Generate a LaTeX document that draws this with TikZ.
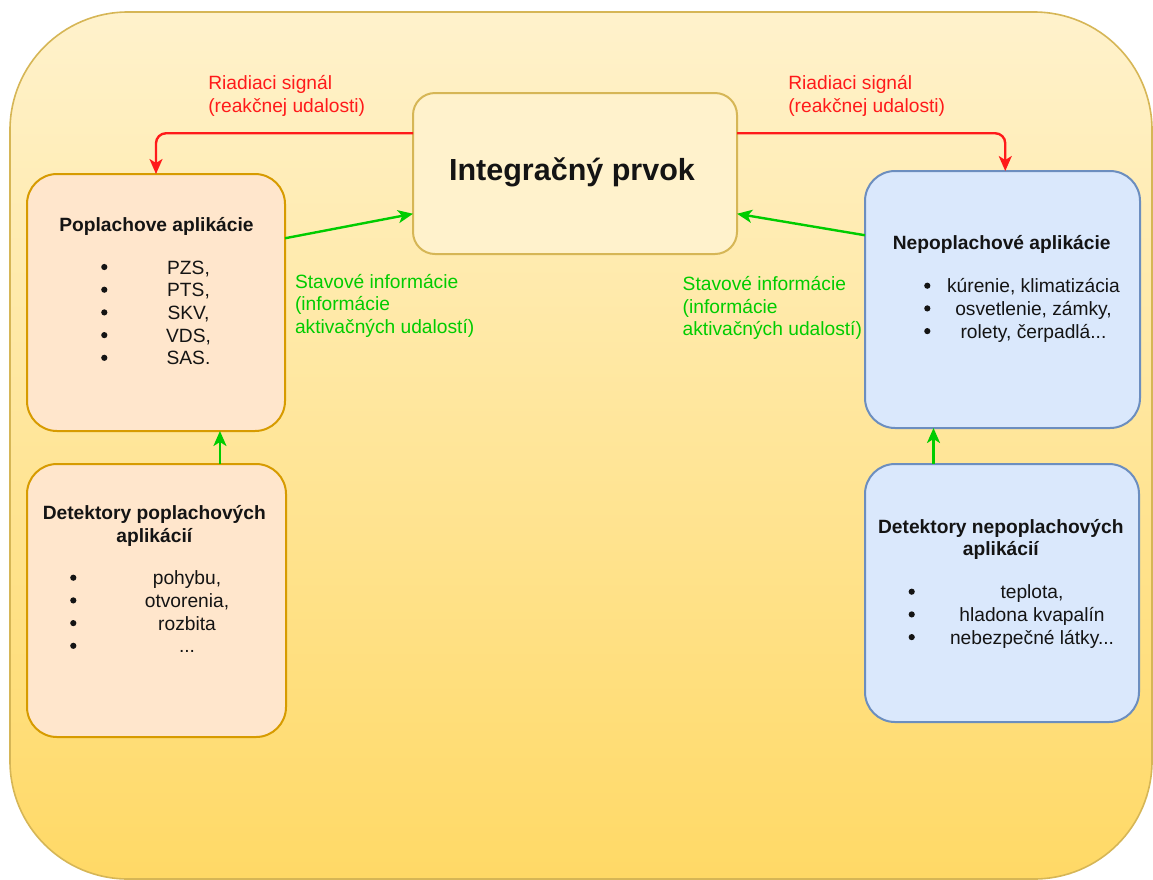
\documentclass[tikz,border=0pt]{standalone}
\usepackage{fontspec}
\setmainfont{Liberation Sans}
\usetikzlibrary{arrows.meta,calc}

\definecolor{bgtop}{HTML}{FFF2CC}
\definecolor{bgbot}{HTML}{FFD966}
\definecolor{bgline}{HTML}{D6B656}
\definecolor{orfill}{HTML}{FFE6CC}
\definecolor{orline}{HTML}{D79B00}
\definecolor{blfill}{HTML}{DAE8FC}
\definecolor{blline}{HTML}{6C8EBF}
\definecolor{sigred}{HTML}{FF1A1A}
\definecolor{stgreen}{HTML}{00CC00}
\definecolor{ink}{HTML}{141414}

% three full stops, kept out of the \foreach list syntax
\newcommand\tridots{...}

\tikzset{
  every node/.style={font=\fontsize{19.2}{22.7}\selectfont, inner sep=0pt, outer sep=0pt, text=ink},
  box/.style={draw, line width=2pt, rounded corners=30pt},
  orbox/.style={box, fill=orfill, draw=orline},
  blbox/.style={box, fill=blfill, draw=blline},
  title/.style={anchor=base, font=\fontsize{19.2}{22.7}\selectfont\bfseries},
  item/.style={anchor=base},
  lab/.style={anchor=base west},
  redlab/.style={lab, text=sigred},
  greenlab/.style={lab, text=stgreen},
  tip/.style={-{Stealth[length=15pt,width=13pt,inset=4pt]}},
  sig/.style={tip, draw=sigred, line width=2.4pt, rounded corners=10pt},
  stat/.style={tip, draw=stgreen, line width=2.4pt},
}

\begin{document}
\begin{tikzpicture}[x=1pt, y=-1pt]
\useasboundingbox (0,0) rectangle (1153,879);
\fill[white] (0,0) rectangle (1153,879);

% enclosing area
\path[draw=bgline, line width=1.6pt, top color=bgtop, bottom color=bgbot, rounded corners=118pt]
  (10,12) rectangle (1152,879);

% boxes
\node[box, fill=bgtop, draw=bgline, rounded corners=22pt, minimum width=324pt, minimum height=161pt] (integ) at (575,173.5) {};
\node[orbox, minimum width=258pt, minimum height=257pt] (popl) at (156,302.5) {};
\node[blbox, minimum width=275pt, minimum height=257pt] (nepopl) at (1002.5,299.5) {};
\node[orbox, minimum width=259pt, minimum height=273pt] (detp) at (156.5,600.5) {};
\node[blbox, minimum width=274pt, minimum height=258pt] (detn) at (1002,593) {};

% central element
\node[anchor=base, font=\fontsize{30.5}{36}\selectfont\bfseries] (integtxt) at (572,180) {Integračný prvok};

% alarm applications
\node[title] (popltitle) at (156.5,231.5) {Poplachove aplikácie};
\foreach \txt [count=\i] in {{PZS,},{PTS,},{SKV,},{VDS,},{SAS.}} {
  \pgfmathsetmacro\yb{274+(\i-1)*22.7}
  \node[item] (pa\i) at (188.5,\yb) {\txt};
  \fill[ink] (104.3,\yb-7) circle (3.1pt);
}

% non-alarm applications
\node[title] (nepopltitle) at (1001.7,249.7) {Nepoplachové aplikácie};
\foreach \txt [count=\i] in {{kúrenie, klimatizácia},{osvetlenie, zámky,},{rolety, čerpadlá\tridots}} {
  \pgfmathsetmacro\yb{292.7+(\i-1)*22.7}
  \node[item] (na\i) at (1033.5,\yb) {\txt};
  \fill[ink] (927.3,\yb-7) circle (3.1pt);
}

% alarm detectors
\node[title] (detptitle1) at (154.3,519.7) {Detektory poplachových};
\node[title] (detptitle2) at (154.3,542.4) {aplikácií};
\foreach \txt [count=\i] in {{pohybu,},{otvorenia,},{rozbita},{\tridots}} {
  \pgfmathsetmacro\yb{584.7+(\i-1)*22.7}
  \node[item] (dp\i) at (187,\yb) {\txt};
  \fill[ink] (73.3,\yb-7) circle (3.1pt);
}

% non-alarm detectors
\node[title] (detntitle1) at (1000.8,533) {Detektory nepoplachových};
\node[title] (detntitle2) at (1000.8,555.7) {aplikácií};
\foreach \txt [count=\i] in {{teplota,},{hladona kvapalín},{nebezpečné látky\tridots}} {
  \pgfmathsetmacro\yb{598.7+(\i-1)*22.7}
  \node[item] (dn\i) at (1032,\yb) {\txt};
  \fill[ink] (911.7,\yb-7) circle (3.1pt);
}

% control signals
\draw[sig] ($(integ.north west)!0.25!(integ.south west)$) -| (popl.north);
\draw[sig] ($(integ.north east)!0.25!(integ.south east)$) -| ($(nepopl.north west)!0.51!(nepopl.north east)$);
\node[redlab] (rl1) at (208.3,89.7) {Riadiaci signál};
\node[redlab] (rl2) at (208.3,112.4) {(reakčnej udalosti)};
\node[redlab] (rr1) at (788.3,89.7) {Riadiaci signál};
\node[redlab] (rr2) at (788.3,112.4) {(reakčnej udalosti)};

% status information
\draw[stat] ($(popl.north east)!0.25!(popl.south east)$) -- ($(integ.north west)!0.75!(integ.south west)$);
\draw[stat] ($(nepopl.north west)!0.25!(nepopl.south west)$) -- ($(integ.north east)!0.75!(integ.south east)$);
\coordinate (dpa) at ($(detp.north west)!0.745!(detp.north east)$);
\coordinate (dna) at ($(detn.north west)!0.25!(detn.north east)$);
\draw[stat] (dpa) -- (dpa |- popl.south);
\draw[stat] (dna) -- (dna |- nepopl.south);

\node[greenlab] (gl1) at (295,288) {Stavové informácie};
\node[greenlab] (gl2) at (295,310.7) {(informácie};
\node[greenlab] (gl3) at (295,333.4) {aktivačných udalostí)};
\node[greenlab] (gr1) at (682.7,290.4) {Stavové informácie};
\node[greenlab] (gr2) at (682.7,313.1) {(informácie};
\node[greenlab] (gr3) at (682.7,335.8) {aktivačných udalostí)};
\end{tikzpicture}
\end{document}
